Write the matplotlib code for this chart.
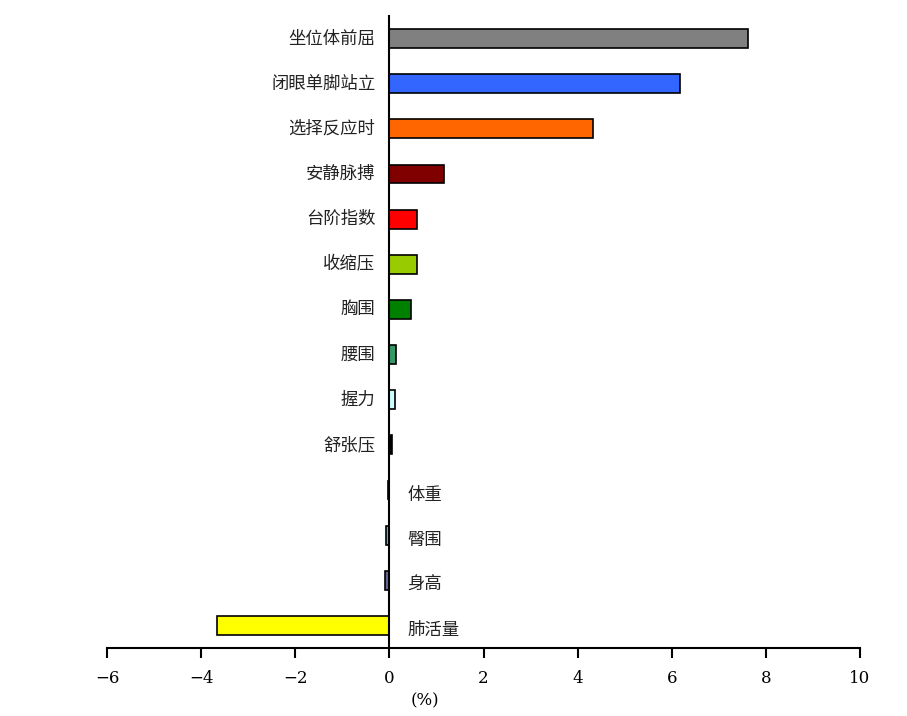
import matplotlib
matplotlib.use("Agg")
import matplotlib.pyplot as plt
import matplotlib.transforms as mtransforms

plt.rcParams['font.family'] = ['Noto Sans CJK SC', 'DejaVu Sans']

categories = ["坐位体前屈", "闭眼单脚站立", "选择反应时", "安静脉搏", "台阶指数", "收缩压",
              "胸围", "腰围", "握力", "舒张压", "体重", "臀围", "身高", "肺活量"]
values = [7.62, 6.18, 4.33, 1.17, 0.59, 0.59, 0.45, 0.15, 0.12, 0.05, -0.03, -0.07, -0.10, -3.67]
colors = ["#808080", "#3366FF", "#FF6600", "#800000", "#FF0000", "#99CC00", "#008000",
          "#339966", "#CCFFFF", "#000000", "#000000", "#33CCCC", "#666699", "#FFFF00"]
xticks = [-6, -4, -2, 0, 2, 4, 6, 8, 10]

fig = plt.figure(figsize=(9.07, 7.16), dpi=100)
ax = fig.add_axes([107 / 907, 1 - 648 / 716, (860 - 107) / 907, (648 - 16) / 716])

ypos = list(range(len(categories)))
ax.barh(ypos, values, height=0.42, color=colors, edgecolor="black", linewidth=1.2)
ax.set_ylim(len(categories) - 0.5, -0.5)
ax.set_xlim(-6, 10)
ax.set_xticks(xticks)
ax.set_xticklabels([str(t).replace("-", "\u2212") for t in xticks], family="DejaVu Serif", fontsize=12)
ax.tick_params(axis="x", direction="out", length=7, width=1.5, pad=9)
ax.set_yticks([])

for s in ["top", "right"]:
    ax.spines[s].set_visible(False)
ax.spines["left"].set_position(("data", 0))
ax.spines["left"].set_linewidth(1.5)
ax.spines["bottom"].set_linewidth(1.5)

for y, v, name in zip(ypos, values, categories):
    if v >= 0:
        ax.text(-0.3, y, name, ha="right", va="center", fontsize=12.5, color="#222222")
    else:
        ax.text(0.38, y + 0.1, name, ha="left", va="center", fontsize=12.5, color="#222222")

trans = mtransforms.blended_transform_factory(ax.transData, fig.transFigure)
ax.text(0.75, 1 - 701 / 716, "(%)", ha="center", va="center", transform=trans,
        fontsize=12, family="DejaVu Serif")

fig.savefig("out.png", dpi=100)
